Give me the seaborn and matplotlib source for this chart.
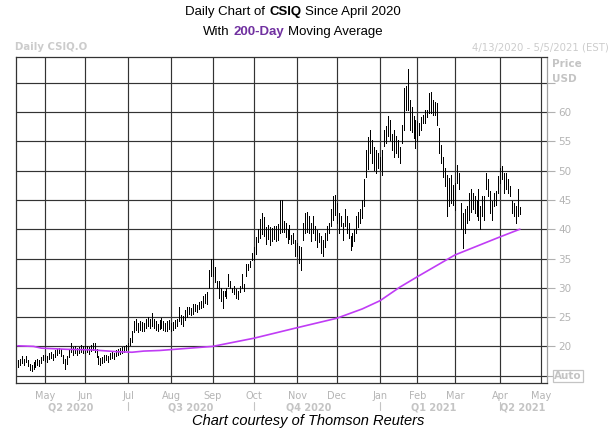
import numpy as np
import pandas as pd
import matplotlib
matplotlib.use("Agg")
import matplotlib.pyplot as plt
import matplotlib.transforms as mtransforms
from matplotlib.lines import Line2D
import seaborn as sns

# ---------------- data ----------------
holidays = ["2020-05-25", "2020-07-03", "2020-09-07", "2020-11-26", "2020-12-25",
            "2021-01-01", "2021-01-18", "2021-02-15", "2021-04-02"]
calendar = pd.bdate_range("2020-04-13", "2021-05-05")
calendar = calendar[~calendar.isin(pd.to_datetime(holidays))]

# daily bar lows / highs (Apr 13 2020 .. Apr 16 2021)
bar_low = [
    # Apr 2020
    16.5, 16.8, 17.2, 16.9, 17.3, 16.6, 16.0, 15.8, 16.2, 16.5, 16.9, 16.7, 17.2, 17.6,
    # May 2020
    17.5, 17.3, 17.8, 18.0, 17.6, 18.2, 18.5, 18.8, 18.3, 17.2, 16.2, 17.0, 18.2, 19.0,
    18.6, 18.9, 18.5, 18.8, 19.1, 18.9,
    # Jun 2020
    18.8, 19.0, 18.7, 19.2, 19.3, 19.0, 18.2, 17.0, 16.8, 17.1, 17.3, 17.6, 17.4, 17.8,
    18.0, 17.9, 18.3, 18.5, 18.7, 18.9, 19.1, 19.3,
    # Jul 2020
    19.6, 20.2, 20.8, 22.4, 22.8, 22.4, 22.8, 22.6, 22.7, 23.1, 23.4, 23.2, 23.4, 23.2,
    22.8, 22.6, 22.9, 23.2, 22.8, 22.6, 22.7, 23.0,
    # Aug 2020
    22.6, 22.8, 23.1, 23.4, 24.3, 23.8, 23.5, 24.5, 25.1, 25.6, 25.3, 25.5, 26.1, 25.8,
    26.3, 26.6, 26.8, 27.4, 27.2, 30.0, 32.0,
    # Sep 2020
    32.0, 31.0, 30.0, 28.3, 27.7, 26.6, 28.6, 28.3, 30.3, 30.0, 29.2, 28.9, 28.3, 28.1,
    29.2, 30.0, 29.5, 32.0, 33.0, 33.5, 34.7,
    # Oct 2020
    34.7, 35.8, 37.8, 38.5, 39.2, 38.8, 37.5, 38.4, 37.3, 38.0, 38.3, 38.0, 38.2, 39.3,
    39.6, 39.6, 38.7, 37.6, 38.3, 37.4, 37.7, 35.4,
    # Nov 2020
    35.4, 34.3, 33.1, 38.2, 39.4, 39.6, 39.4, 38.0, 39.4, 38.2, 37.0, 37.9, 36.0, 35.4,
    37.0, 38.2, 39.4, 40.5, 41.6, 42.5,
    # Dec 2020
    41.0, 39.4, 40.5, 38.2, 40.5, 39.4, 38.5, 36.5, 37.1, 38.0, 39.4, 40.3, 41.1, 42.0,
    44.0, 49.0, 50.2, 53.0, 51.3, 50.1, 49.6, 50.5,
    # Jan 2021
    50.1, 49.3, 54.2, 54.7, 55.9, 55.3, 53.6, 52.4, 53.0, 52.4, 51.3, 54.7, 57.0, 60.4,
    60.4, 57.0, 56.6, 55.5, 53.9,
    # Feb 2021
    55.0, 56.1, 57.0, 58.1, 58.1, 59.2, 59.8, 59.8, 59.5, 59.5, 57.8, 53.0, 51.3, 49.0,
    47.3, 42.2, 43.9, 44.5, 44.2,
    # Mar 2021
    43.3, 47.9, 46.8, 40.0, 36.8, 39.4, 41.0, 41.6, 43.0, 43.4, 42.8, 42.2, 41.6, 40.0,
    42.2, 41.6, 46.8, 45.6, 42.8, 41.6, 43.9, 44.2, 46.2,
    # Apr 2021
    47.9, 48.6, 46.2, 46.8, 46.2, 45.6, 42.8, 42.2, 41.1, 42.2, 42.6,
]
bar_high = [
    # Apr 2020
    17.6, 17.9, 18.3, 17.8, 18.4, 17.7, 17.0, 16.9, 17.3, 17.6, 17.8, 17.6, 18.2, 18.6,
    # May 2020
    18.6, 18.3, 18.8, 19.0, 18.7, 19.3, 19.6, 19.8, 19.5, 18.6, 17.8, 18.4, 19.6, 20.6,
    19.9, 20.1, 19.8, 19.9, 20.2, 20.0,
    # Jun 2020
    20.0, 20.1, 19.9, 20.3, 20.6, 20.5, 19.5, 18.4, 18.0, 18.2, 18.5, 18.6, 18.4, 18.8,
    19.0, 18.9, 19.3, 19.5, 19.7, 19.9, 20.1, 20.3,
    # Jul 2020
    20.6, 21.5, 22.6, 24.4, 24.6, 24.0, 24.4, 24.1, 24.0, 24.6, 25.0, 24.6, 25.7, 24.7,
    24.3, 23.9, 24.5, 24.8, 24.3, 24.0, 24.3, 24.5,
    # Aug 2020
    24.0, 24.2, 24.5, 24.6, 26.7, 25.4, 25.2, 26.2, 26.7, 26.8, 26.6, 27.2, 27.2, 27.0,
    27.6, 27.8, 28.6, 28.9, 29.2, 33.0, 35.0,
    # Sep 2020
    35.0, 33.6, 31.2, 31.2, 30.0, 29.5, 29.5, 30.0, 32.3, 31.2, 30.0, 30.3, 29.8, 29.5,
    30.3, 32.3, 30.6, 34.0, 34.0, 34.6, 36.0,
    # Oct 2020
    37.0, 38.7, 40.0, 41.8, 42.7, 42.1, 40.4, 40.8, 40.4, 40.2, 40.6, 40.6, 40.9, 45.0,
    45.0, 41.4, 41.0, 40.0, 40.8, 39.0, 39.4, 38.2,
    # Nov 2020
    37.7, 37.1, 37.0, 41.0, 42.8, 43.0, 42.2, 41.0, 42.2, 40.5, 39.9, 39.4, 38.8, 38.2,
    39.4, 40.5, 41.0, 43.4, 45.6, 45.9,
    # Dec 2020
    44.5, 42.8, 42.2, 41.0, 43.4, 42.2, 41.0, 38.8, 39.4, 40.0, 42.2, 43.0, 43.4, 45.0,
    48.6, 53.6, 55.8, 57.0, 55.3, 54.1, 53.6, 53.0,
    # Jan 2021
    52.4, 53.6, 57.0, 57.6, 59.3, 58.7, 56.3, 57.0, 55.9, 55.3, 54.0, 57.8, 64.1, 64.4,
    67.3, 62.0, 60.8, 59.3, 58.7,
    # Feb 2021
    58.5, 58.1, 59.2, 59.5, 60.4, 60.4, 63.2, 63.5, 62.1, 61.8, 61.5, 57.3, 54.4, 52.4,
    50.5, 49.3, 48.8, 49.3, 47.6,
    # Mar 2021
    47.9, 51.0, 49.6, 44.5, 42.8, 43.4, 43.9, 46.2, 46.8, 46.2, 45.6, 45.0, 46.8, 43.9,
    45.6, 45.6, 49.6, 48.5, 46.5, 44.8, 46.2, 46.5, 49.1,
    # Apr 2021
    50.5, 50.8, 49.6, 49.6, 48.5, 47.3, 44.8, 44.5, 43.9, 46.8, 43.8,
]

# 200-day moving average, read at selected trading days
ma_day = [0, 8, 12, 25, 38, 50, 58, 64, 72, 99, 120, 142, 162, 175, 184, 194, 203, 222, 245, 255]
ma_value = [20.1, 20.0, 19.7, 19.5, 19.4, 19.1, 19.0, 19.2, 19.3, 20.0, 21.4, 23.2, 24.8,
            26.4, 27.8, 30.1, 31.9, 35.6, 38.7, 40.0]

month_labels = ["May", "Jun", "Jul", "Aug", "Sep", "Oct", "Nov", "Dec",
                "Jan", "Feb", "Mar", "Apr", "May"]
quarter_labels = ["Q2 2020", "Q3 2020", "Q4 2020", "Q1 2021", "Q2 2021"]
price_ticks = [15, 20, 25, 30, 35, 40, 45, 50, 55, 60, 65]
price_tick_labels = ["", "20", "25", "30", "35", "40", "45", "50", "55", "60", ""]

# ---------------- layout helpers ----------------
W, H = 611, 438
sns.set_style("white")
plt.rcParams["font.family"] = ["DejaVu Sans"]

fig = plt.figure(figsize=(W / 100, H / 100), dpi=100)
fig.patch.set_facecolor("white")

def fx(x):
    return x / W

def fy(y):
    return 1 - y / H

L, R, T, B = 16, 547, 57, 383
ax = fig.add_axes([fx(L), fy(B), (R - L) / W, (B - T) / H])

n = len(bar_low)
day_idx = np.arange(n)
dates = calendar[:n]

# month start positions in the trading-day index
cal_months = calendar.to_period("M")
month_starts = [i for i in range(1, len(calendar)) if cal_months[i] != cal_months[i - 1]]

# ---------------- drawing ----------------
ax.vlines(day_idx, bar_low, bar_high, color="black", lw=0.55, antialiased=False, zorder=3)

ma_df = pd.DataFrame({"day": ma_day, "ma": ma_value})
sns.lineplot(data=ma_df, x="day", y="ma", ax=ax, color="#c03cf5", lw=1.2, zorder=4)

ax.set_xlim(-0.9, 268.8)
ax.set_ylim(13.75, 69.4)

ax.set_xticks(month_starts)
ax.set_xticklabels(month_labels)
ax.set_yticks(price_ticks)
ax.set_yticklabels(price_tick_labels)
ax.yaxis.tick_right()
ax.set_xlabel("")
ax.set_ylabel("")

ax.grid(True, color="#333333", lw=0.85)
ax.set_axisbelow(True)

for side in ["left", "top", "bottom"]:
    ax.spines[side].set_color("#333333")
    ax.spines[side].set_linewidth(0.9)
ax.spines["right"].set_color("#a0a0a0")
ax.spines["right"].set_linewidth(0.9)

grey = "#b4b4b4"
ax.tick_params(axis="x", length=3, color="#c8c8c8", labelcolor=grey, labelsize=7, pad=3)
ax.tick_params(axis="y", length=6, color="#b0b0b0", labelcolor=grey, labelsize=7.5, pad=2)

# quarter labels below the months
blend = mtransforms.blended_transform_factory(ax.transData, fig.transFigure)
quarter_pos = [27, 88, 148, 211.5, 256.5]
for lbl, xp in zip(quarter_labels, quarter_pos):
    ax.text(xp, fy(407), lbl, transform=blend, ha="center", va="center",
            fontsize=7, fontweight="bold", color="#c4c4c4")
for m in [month_starts[2], month_starts[5], month_starts[8], month_starts[11]]:
    fig.add_artist(Line2D([m, m], [fy(402), fy(410)], transform=blend,
                          color="#c4c4c4", lw=0.8))

# right-axis captions
fig.text(fx(552), fy(64), "Price", ha="left", va="center", fontsize=7.5,
         fontweight="bold", color="#c4c4c4")
fig.text(fx(552), fy(79), "USD", ha="left", va="center", fontsize=7.5,
         fontweight="bold", color="#c4c4c4")
fig.text(fx(568), fy(376), "Auto", ha="center", va="center", fontsize=7.5,
         fontweight="bold", color="#c4c4c4",
         bbox=dict(boxstyle="square,pad=0.12", fc="white", ec="#c4c4c4", lw=0.9))

# header captions
fig.text(fx(15), fy(47), "Daily CSIQ.O", ha="left", va="center", fontsize=7.3,
         fontweight="bold", color="#cccccc")
fig.text(fx(609), fy(47), "4/13/2020 - 5/5/2021 (EST)", ha="right", va="center",
         fontsize=7.3, color="#cccccc")

# rich title lines
renderer = fig.canvas.get_renderer()

def rich_line(parts, cx, cy, size):
    texts = []
    for s, weight, color in parts:
        t = fig.text(0, fy(cy), s, ha="left", va="center", fontsize=size,
                     fontweight=weight, color=color, family="Liberation Sans")
        texts.append(t)
    probe1 = fig.text(0, 0, "x x", fontsize=size, family="Liberation Sans")
    probe2 = fig.text(0, 0, "xx", fontsize=size, family="Liberation Sans")
    gap = probe1.get_window_extent(renderer).width - probe2.get_window_extent(renderer).width
    probe1.remove()
    probe2.remove()
    widths = [t.get_window_extent(renderer).width for t in texts]
    total = sum(widths) + gap * (len(texts) - 1)
    x = cx - total / 2
    for t, w in zip(texts, widths):
        t.set_x(fx(x))
        x += w + gap

rich_line([("Daily Chart of", "normal", "black"), ("CSIQ", "bold", "black"),
           ("Since April 2020", "normal", "black")], 293, 12, 9.5)
rich_line([("With", "normal", "black"), ("200-Day", "bold", "#7030a0"),
           ("Moving Average", "normal", "black")], 293, 32, 9.5)

fig.text(fx(308), fy(421), "Chart courtesy of Thomson Reuters", ha="center",
         va="center", fontsize=10.5, style="italic", color="black",
         family="Liberation Sans")

fig.savefig("out.png", dpi=100, facecolor="white")
